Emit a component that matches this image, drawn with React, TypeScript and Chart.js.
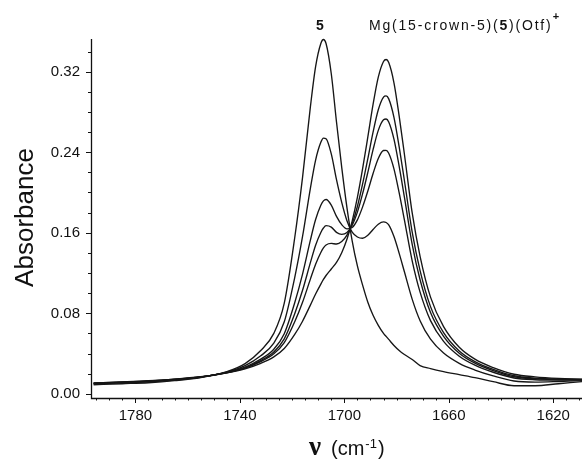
import React, { useEffect, useRef } from 'react';
import { Chart, registerables } from 'chart.js';

Chart.register(...registerables);

// Wavenumbers (cm-1) at which the spectra were read
const WAVENUMBERS = [1796, 1785, 1775, 1765, 1755, 1745, 1738, 1732, 1727, 1723, 1719, 1716, 1713, 1711, 1709, 1708, 1707, 1705, 1703, 1701, 1699, 1697, 1695, 1693, 1691, 1689, 1687, 1685, 1684, 1683, 1681, 1679, 1677, 1674, 1671, 1667, 1662, 1656, 1650, 1643, 1635, 1627, 1618, 1609];

// Pure 5
const SPEC_A = [0.009, 0.010, 0.011, 0.013, 0.016, 0.022, 0.030, 0.043, 0.060, 0.090, 0.155, 0.215, 0.285, 0.325, 0.348, 0.352, 0.348, 0.318, 0.270, 0.225, 0.185, 0.152, 0.127, 0.108, 0.091, 0.078, 0.068, 0.060, 0.057, 0.054, 0.048, 0.043, 0.039, 0.034, 0.028, 0.025, 0.022, 0.019, 0.016, 0.012, 0.008, 0.008, 0.010, 0.012];
const SPEC_B = [0.0098, 0.0108, 0.0118, 0.0136, 0.0164, 0.0215, 0.0279, 0.0377, 0.0504, 0.0715, 0.1155, 0.1563, 0.2041, 0.2322, 0.2498, 0.254, 0.2533, 0.2383, 0.2127, 0.1902, 0.172, 0.1605, 0.1558, 0.1545, 0.1575, 0.1632, 0.1685, 0.1708, 0.1702, 0.1678, 0.1562, 0.1395, 0.1212, 0.0938, 0.0726, 0.0542, 0.0404, 0.0302, 0.0236, 0.0178, 0.0127, 0.0116, 0.0122, 0.0131];
const SPEC_C = [0.0102, 0.0112, 0.0123, 0.0141, 0.0166, 0.0212, 0.0265, 0.0344, 0.0443, 0.0597, 0.0904, 0.1189, 0.1526, 0.1731, 0.1873, 0.1917, 0.193, 0.1875, 0.1762, 0.168, 0.1638, 0.1652, 0.1728, 0.1857, 0.2014, 0.2188, 0.2338, 0.2417, 0.2419, 0.239, 0.2235, 0.1996, 0.1728, 0.1318, 0.101, 0.0727, 0.052, 0.0373, 0.0284, 0.0214, 0.0157, 0.0139, 0.0135, 0.0138];
const SPEC_D = [0.0104, 0.0114, 0.0125, 0.0142, 0.0168, 0.021, 0.0259, 0.033, 0.0416, 0.0546, 0.0795, 0.1028, 0.1303, 0.1476, 0.1603, 0.1647, 0.167, 0.1656, 0.1604, 0.1584, 0.1602, 0.1674, 0.1805, 0.1988, 0.22, 0.2425, 0.2617, 0.2722, 0.273, 0.2701, 0.253, 0.2259, 0.1953, 0.1482, 0.1133, 0.0807, 0.0571, 0.0403, 0.0304, 0.023, 0.0169, 0.0149, 0.0141, 0.0141];
const SPEC_E = [0.0106, 0.0116, 0.0127, 0.0144, 0.0168, 0.0209, 0.0255, 0.0319, 0.0397, 0.0508, 0.0715, 0.0909, 0.1139, 0.1287, 0.1404, 0.1449, 0.1478, 0.1494, 0.1488, 0.1513, 0.1576, 0.169, 0.1861, 0.2085, 0.2337, 0.26, 0.2822, 0.2948, 0.296, 0.293, 0.2747, 0.2453, 0.2119, 0.1603, 0.1224, 0.0866, 0.0608, 0.0426, 0.032, 0.0242, 0.0179, 0.0156, 0.0146, 0.0143];
const SPEC_F = [0.0108, 0.0118, 0.0129, 0.0146, 0.017, 0.0208, 0.0248, 0.0302, 0.0366, 0.0449, 0.0589, 0.0721, 0.0881, 0.0991, 0.109, 0.1136, 0.1175, 0.124, 0.1305, 0.1402, 0.1535, 0.1716, 0.1951, 0.2236, 0.2552, 0.2875, 0.3146, 0.3302, 0.3321, 0.3291, 0.309, 0.2758, 0.238, 0.1794, 0.1366, 0.096, 0.0667, 0.0462, 0.0344, 0.026, 0.0194, 0.0168, 0.0153, 0.0146];

const SPECTRA = [SPEC_A, SPEC_B, SPEC_C, SPEC_D, SPEC_E, SPEC_F];

const X_TICK_LABELS = [1780, 1740, 1700, 1660, 1620];
const Y_TICK_VALUES = [0, 0.08, 0.16, 0.24, 0.32];
const Y_TICK_LABELS = ['0.00', '0.08', '0.16', '0.24', '0.32'];

const X_MIN = 1609;
const X_MAX = 1797;
const Y_MIN = -0.0042;
const Y_MAX = 0.3525;

const SANS = '"Liberation Sans", Arial, Helvetica, sans-serif';
const INK = '#111';

function drawSpaced(ctx: CanvasRenderingContext2D, text: string, x: number, y: number, spacing: number): number {
  const chars = Array.from(text);
  let cx = x;
  ctx.textAlign = 'left';
  for (const ch of chars) {
    ctx.fillText(ch, cx, y);
    cx += ctx.measureText(ch).width + spacing;
  }
  return cx - spacing;
}

const axesPlugin = {
  id: 'axesPlugin',
  afterDraw(chart: any) {
    const { ctx, chartArea: ca, scales } = chart;
    const xs = scales.x;
    const ys = scales.y;
    ctx.save();
    ctx.strokeStyle = INK;
    ctx.fillStyle = INK;

    // axis lines
    ctx.lineWidth = 1.3;
    ctx.beginPath();
    ctx.moveTo(ca.left + 0.5, ca.top);
    ctx.lineTo(ca.left + 0.5, ca.bottom + 0.5);
    ctx.lineTo(ca.right, ca.bottom + 0.5);
    ctx.stroke();

    // y ticks every 0.02
    ctx.lineWidth = 1;
    for (let k = 0; k <= 17; k++) {
      const v = k * 0.02;
      const py = Math.round(ys.getPixelForValue(v)) + 0.5;
      const len = k % 4 === 0 ? 5 : 3;
      ctx.beginPath();
      ctx.moveTo(ca.left, py);
      ctx.lineTo(ca.left - len, py);
      ctx.stroke();
    }
    // x ticks every 5
    for (let w = 1795; w >= 1610; w -= 5) {
      const px = Math.round(xs.getPixelForValue(w)) + 0.5;
      const major = (w - 1620) % 40 === 0;
      const len = major ? 5 : 2.5;
      ctx.beginPath();
      ctx.moveTo(px, ca.bottom);
      ctx.lineTo(px, ca.bottom + len);
      ctx.stroke();
    }

    // tick labels
    ctx.font = `15px ${SANS}`;
    ctx.textBaseline = 'middle';
    ctx.textAlign = 'right';
    Y_TICK_VALUES.forEach((v, i) => {
      ctx.fillText(Y_TICK_LABELS[i], ca.left - 11, ys.getPixelForValue(v) + 0.5);
    });
    ctx.textAlign = 'center';
    X_TICK_LABELS.forEach((w) => {
      ctx.fillText(String(w), xs.getPixelForValue(w), 415.5);
    });

    // y title
    ctx.save();
    ctx.translate(33, 217.5);
    ctx.rotate(-Math.PI / 2);
    ctx.font = `26px ${SANS}`;
    ctx.textAlign = 'center';
    ctx.textBaseline = 'alphabetic';
    ctx.fillText('Absorbance', 0, 0);
    ctx.restore();

    // x title: nu (cm-1)
    ctx.textBaseline = 'alphabetic';
    ctx.textAlign = 'left';
    ctx.font = `bold 27px "Liberation Serif", "Times New Roman", serif`;
    ctx.fillText('ν', 309, 455);
    ctx.font = `20px ${SANS}`;
    let tx = 331;
    ctx.fillText('(cm', tx, 455);
    tx += ctx.measureText('(cm').width + 1;
    ctx.font = `13px ${SANS}`;
    ctx.fillText('-1', tx, 448);
    tx += ctx.measureText('-1').width + 1;
    ctx.font = `20px ${SANS}`;
    ctx.fillText(')', tx, 455);

    // top labels
    ctx.font = `bold 14px ${SANS}`;
    ctx.textAlign = 'center';
    ctx.fillText('5', 320, 30);
    const sp = 1.8;
    ctx.font = `14px ${SANS}`;
    let mx = drawSpaced(ctx, 'Mg(15-crown-5)(', 369, 30, sp) + sp;
    ctx.font = `bold 14px ${SANS}`;
    mx = drawSpaced(ctx, '5', mx, 30, sp) + sp;
    ctx.font = `14px ${SANS}`;
    mx = drawSpaced(ctx, ')(Otf)', mx, 30, sp) + 2;
    ctx.font = `bold 11px ${SANS}`;
    ctx.fillText('+', mx, 20);

    ctx.restore();
  },
};

export default function App() {
  const canvasRef = useRef<HTMLCanvasElement | null>(null);

  useEffect(() => {
    const canvas = canvasRef.current;
    if (!canvas) return;
    const datasets = SPECTRA.map((spec, si) => ({
      label: `spectrum ${si + 1}`,
      data: WAVENUMBERS.map((w, i) => ({ x: w, y: spec[i] })),
      borderColor: '#161616',
      borderWidth: 1.35,
      pointRadius: 0,
      fill: false,
      cubicInterpolationMode: 'monotone' as const,
      clip: false as any,
    }));
    const chart = new Chart(canvas, {
      type: 'line',
      data: { datasets },
      options: {
        animation: false,
        responsive: false,
        devicePixelRatio: 1,
        layout: { padding: { left: 91, top: 39, right: 0, bottom: 63 } },
        plugins: { legend: { display: false }, tooltip: { enabled: false } },
        scales: {
          x: { type: 'linear', reverse: true, min: X_MIN, max: X_MAX, display: false },
          y: { type: 'linear', min: Y_MIN, max: Y_MAX, display: false },
        },
      },
      plugins: [axesPlugin],
    });
    return () => chart.destroy();
  }, []);

  return (
    <div style={{ position: 'fixed', left: 0, top: 0, width: 582, height: 461, background: '#fff' }}>
      <canvas ref={canvasRef} width={582} height={461} style={{ display: 'block' }} />
    </div>
  );
}
